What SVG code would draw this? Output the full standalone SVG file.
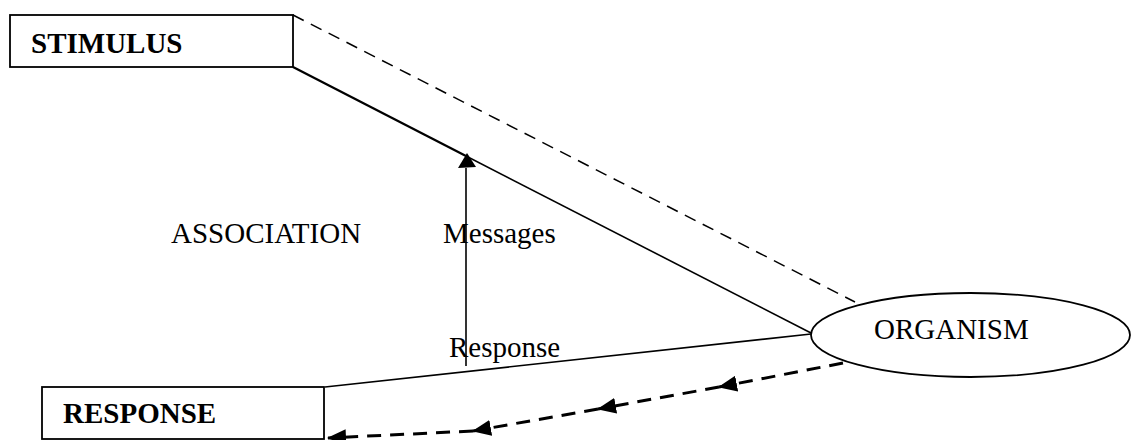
<svg xmlns="http://www.w3.org/2000/svg" width="1131" height="440" viewBox="0 0 1131 440">
<defs>
<style>
.box{fill:#fff;stroke:#000;stroke-width:1.8}
.lbl{font-family:"Liberation Serif","Times New Roman",serif;font-size:29px;fill:#000}
.b{font-weight:bold}
.ln{fill:none;stroke:#000;stroke-width:1.6}
.thick{stroke-width:2.3}
.dash{fill:none;stroke:#000;stroke-width:1.5;stroke-dasharray:12 8}
.dash2{fill:none;stroke:#000;stroke-width:3;stroke-dasharray:14 9}
</style>
<marker id="ah" viewBox="0 0 19 16" refX="18" refY="8" markerWidth="19" markerHeight="16" markerUnits="userSpaceOnUse" orient="auto">
<path d="M0,0 L19,8 L0,16 Z" fill="#000"/>
</marker>
</defs>
<rect width="1131" height="440" fill="#fff"/>
<g id="connectors">
<line class="dash" x1="293" y1="15" x2="855" y2="302"/>
<line class="ln thick" x1="293" y1="67" x2="466" y2="156"/>
<line class="ln" x1="466" y1="156" x2="811" y2="333"/>
<line class="ln" x1="466" y1="366" x2="466" y2="168"/>
<path d="M467,153 L458,168 L476,167 Z" fill="#000"/>
<line class="ln" x1="325" y1="387" x2="811" y2="334"/>
<line class="dash2" x1="843" y1="363" x2="719" y2="387" marker-end="url(#ah)"/>
<line class="dash2" x1="719" y1="387" x2="598" y2="409" marker-end="url(#ah)"/>
<line class="dash2" x1="598" y1="409" x2="473" y2="431" marker-end="url(#ah)"/>
<line class="dash2" x1="473" y1="431" x2="328" y2="438" marker-end="url(#ah)"/>
</g>
<g id="stimulus">
<rect class="box" x="10" y="15" width="283" height="52"/>
<text class="lbl b" x="31" y="53">STIMULUS</text>
</g>
<g id="response">
<rect class="box" x="42" y="387" width="282" height="52"/>
<text class="lbl b" x="63" y="423">RESPONSE</text>
</g>
<g id="organism">
<ellipse class="box" cx="970.5" cy="335" rx="159.5" ry="42"/>
<text class="lbl" x="874" y="339">ORGANISM</text>
</g>
<g id="labels">
<text class="lbl" x="171" y="243">ASSOCIATION</text>
<text class="lbl" x="443" y="243">Messages</text>
<text class="lbl" x="449" y="357">Response</text>
</g>
</svg>
